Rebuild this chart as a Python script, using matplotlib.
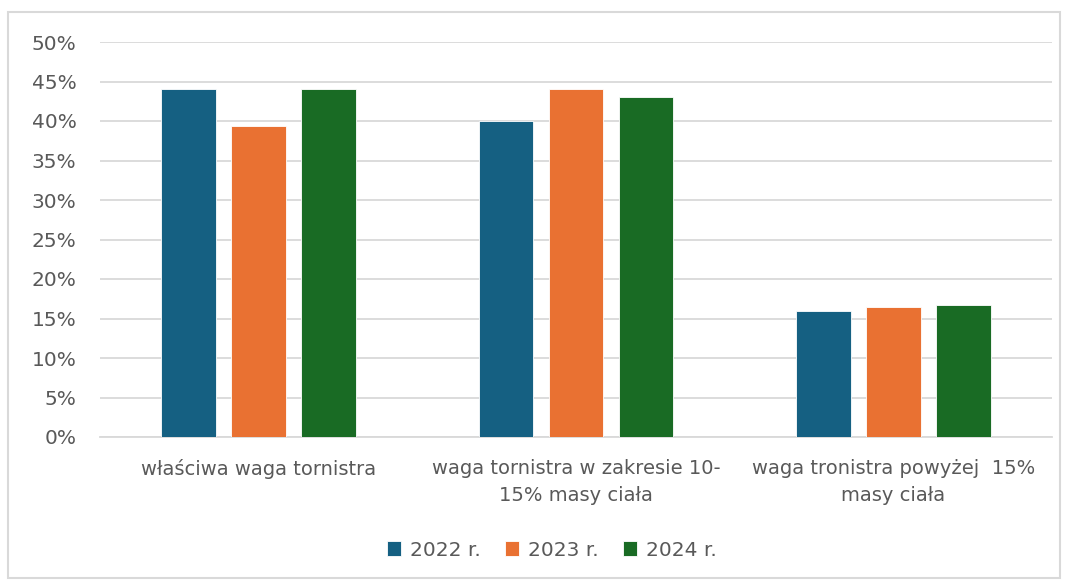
import matplotlib
matplotlib.use("Agg")
import matplotlib.pyplot as plt
from matplotlib.patches import Rectangle
import numpy as np

categories = ["właściwa waga tornistra",
              "waga tornistra w zakresie 10-\n15% masy ciała",
              "waga tronistra powyżej  15%\nmasy ciała"]
series_names = ["2022 r.", "2023 r.", "2024 r."]
v2022 = [44.0, 40.0, 16.0]
v2023 = [39.4, 44.0, 16.5]
v2024 = [44.0, 43.0, 16.7]
colors = ["#156082", "#E97132", "#196B24"]
yticks = [0, 5, 10, 15, 20, 25, 30, 35, 40, 45, 50]

W, H = 1070, 582
fig = plt.figure(figsize=(W / 100, H / 100), dpi=100)
ax = fig.add_axes([100 / W, 1 - 437 / H, (1052 - 100) / W, (437 - 42) / H])

x = np.arange(len(categories))
bw = 0.173
step = 0.2205
for i, (vals, name, c) in enumerate(zip([v2022, v2023, v2024], series_names, colors)):
    ax.bar(x + (i - 1) * step, vals, width=bw, color=c, label=name, zorder=3,
           edgecolor="white", linewidth=0.6)

ax.set_xlim(-0.5, 2.5)
ax.set_ylim(0, 50)
ax.set_yticks(yticks)
ax.set_yticklabels([f"{t}%" for t in yticks], fontsize=14.5, color="#595959",
                   family=["DejaVu Sans"])
ax.yaxis.grid(True, color="#D9D9D9", linewidth=1.3, zorder=0)
ax.tick_params(axis="y", length=0, pad=17)
ax.tick_params(axis="x", length=0, pad=16)
ax.set_xticks(x)
ax.set_xticklabels(categories, fontsize=14, color="#595959", linespacing=1.5,
                   family=["DejaVu Sans"])
for s in ["top", "right", "left"]:
    ax.spines[s].set_visible(False)
ax.spines["bottom"].set_color("#D9D9D9")
ax.spines["bottom"].set_linewidth(1.3)

leg = fig.legend(loc="center", bbox_to_anchor=(552 / W, 1 - 550 / H), ncol=3, frameon=False,
                 prop={"family": ["DejaVu Sans"], "size": 14.5},
                 handlelength=0.7, handleheight=0.7, handletextpad=0.45, columnspacing=1.2)
for t in leg.get_texts():
    t.set_color("#595959")

fig.patches.append(Rectangle((8 / W, 1 - 578 / H), (1060 - 8) / W, (578 - 12) / H,
                             transform=fig.transFigure, fill=False,
                             edgecolor="#D9D9D9", linewidth=1.5))

fig.savefig("out.png", dpi=100)
